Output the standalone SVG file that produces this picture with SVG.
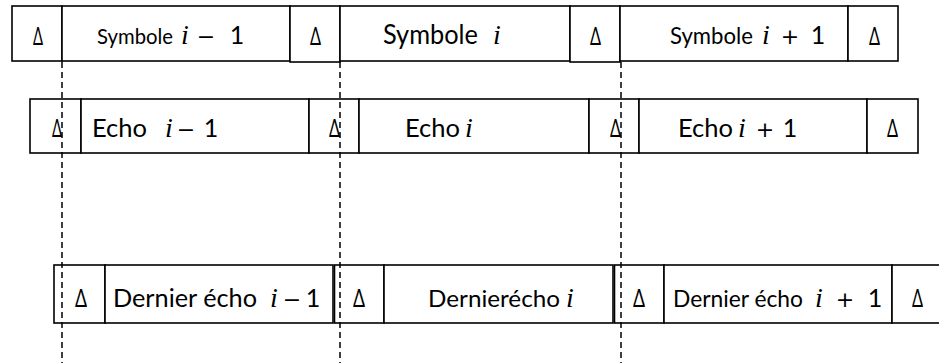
<svg xmlns="http://www.w3.org/2000/svg" width="939" height="363" viewBox="0 0 939 363">
  <style>
    .box { fill: #ffffff; stroke: #000000; stroke-width: 1.6; }
    .guide { fill: none; stroke: #000000; stroke-width: 1.5; stroke-dasharray: 6 4; }
    .w { font-family: Lato, "Open Sans", "DejaVu Sans", sans-serif; font-size: 25px; fill: #000000; }
    .n { font-family: Lato, "Open Sans", "DejaVu Sans", sans-serif; font-size: 25px; fill: #000000; text-anchor: middle; }
    .op { font-family: "DejaVu Sans", sans-serif; font-size: 22px; fill: #000000; text-anchor: middle; }
    .d { font-family: Lato, "Open Sans", "DejaVu Sans", sans-serif; font-size: 25px; fill: #000000; }
    .m { font-family: "Liberation Serif", "DejaVu Serif", serif; font-style: italic; font-size: 28px; fill: #000000; }
  </style>
  <rect width="939" height="363" fill="#ffffff"/>

  <!-- row 1: symbols -->
  <g id="row-symboles">
    <g id="s-g0"><rect class="box" x="12" y="6" width="50" height="55"/><text class="d" x="33" y="45" textLength="10" lengthAdjust="spacingAndGlyphs">Δ</text></g>
    <g id="s-prev"><rect class="box" x="62" y="6" width="228" height="55"/>
      <text class="w" x="97" y="44" style="font-size:22px" textLength="76" lengthAdjust="spacingAndGlyphs">Symbole</text>
      <text class="m" x="181" y="44">i</text><text class="op" x="206" y="44">−</text><text class="n" x="237" y="44">1</text></g>
    <g id="s-g1"><rect class="box" x="290" y="6" width="50" height="56"/><text class="d" x="310" y="45" textLength="11" lengthAdjust="spacingAndGlyphs">Δ</text></g>
    <g id="s-cur"><rect class="box" x="340" y="6" width="230" height="55"/>
      <text class="w" x="383" y="44" style="font-size:26px" textLength="95" lengthAdjust="spacingAndGlyphs">Symbole</text>
      <text class="m" x="493" y="44">i</text></g>
    <g id="s-g2"><rect class="box" x="570" y="6" width="50" height="56"/><text class="d" x="590" y="45" textLength="11" lengthAdjust="spacingAndGlyphs">Δ</text></g>
    <g id="s-next"><rect class="box" x="620" y="6" width="228" height="55"/>
      <text class="w" x="670" y="44" style="font-size:23px" textLength="83" lengthAdjust="spacingAndGlyphs">Symbole</text>
      <text class="m" x="762" y="44">i</text><text class="op" x="790" y="44">+</text><text class="n" x="818" y="44">1</text></g>
    <g id="s-g3"><rect class="box" x="848" y="6" width="50" height="55"/><text class="d" x="869" y="45" textLength="11" lengthAdjust="spacingAndGlyphs">Δ</text></g>
  </g>

  <!-- row 2: echoes -->
  <g id="row-echo">
    <g id="e-g0"><rect class="box" x="30" y="99" width="51" height="54"/><text class="d" x="52" y="137" textLength="10" lengthAdjust="spacingAndGlyphs">Δ</text></g>
    <g id="e-prev"><rect class="box" x="81" y="99" width="228" height="54"/>
      <text class="w" x="92" y="137" textLength="55" lengthAdjust="spacingAndGlyphs">Echo</text>
      <text class="m" x="165" y="137">i</text><text class="op" x="186" y="137">−</text><text class="n" x="211" y="137">1</text></g>
    <g id="e-g1"><rect class="box" x="309" y="99" width="50" height="54"/><text class="d" x="329" y="137" textLength="11" lengthAdjust="spacingAndGlyphs">Δ</text></g>
    <g id="e-cur"><rect class="box" x="359" y="99" width="230" height="54"/>
      <text class="w" x="405" y="137" textLength="55" lengthAdjust="spacingAndGlyphs">Echo</text>
      <text class="m" x="465" y="137">i</text></g>
    <g id="e-g2"><rect class="box" x="589" y="99" width="50" height="54"/><text class="d" x="610" y="137" textLength="11" lengthAdjust="spacingAndGlyphs">Δ</text></g>
    <g id="e-next"><rect class="box" x="639" y="99" width="228" height="54"/>
      <text class="w" x="678" y="137" textLength="55" lengthAdjust="spacingAndGlyphs">Echo</text>
      <text class="m" x="738" y="137">i</text><text class="op" x="765" y="137">+</text><text class="n" x="790" y="137">1</text></g>
    <g id="e-g3"><rect class="box" x="867" y="99" width="51" height="54"/><text class="d" x="887" y="137" textLength="11" lengthAdjust="spacingAndGlyphs">Δ</text></g>
  </g>

  <!-- row 3: last echoes -->
  <g id="row-dernier">
    <g id="d-g0"><rect class="box" x="54" y="265" width="51" height="58"/><text class="d" x="75" y="307" textLength="12" lengthAdjust="spacingAndGlyphs">Δ</text></g>
    <g id="d-prev"><rect class="box" x="105" y="265" width="228" height="58"/>
      <text class="w" x="113" y="307" textLength="144" lengthAdjust="spacingAndGlyphs">Dernier écho</text>
      <text class="m" x="270" y="307">i</text><text class="op" x="292" y="307">−</text><text class="n" x="313" y="307">1</text></g>
    <g id="d-g1"><rect class="box" x="334.5" y="265" width="49.5" height="58"/><text class="d" x="353" y="307" textLength="12" lengthAdjust="spacingAndGlyphs">Δ</text></g>
    <g id="d-cur"><rect class="box" x="384" y="265" width="229" height="58"/>
      <text class="w" x="428" y="307" style="font-size:24px" textLength="132" lengthAdjust="spacingAndGlyphs">Dernierécho</text>
      <text class="m" x="566" y="307">i</text></g>
    <g id="d-g2"><rect class="box" x="614.5" y="265" width="49.5" height="58"/><text class="d" x="633" y="307" textLength="12" lengthAdjust="spacingAndGlyphs">Δ</text></g>
    <g id="d-next"><rect class="box" x="664" y="265" width="228" height="58"/>
      <text class="w" x="673" y="307" style="font-size:24px" textLength="130" lengthAdjust="spacingAndGlyphs">Dernier écho</text>
      <text class="m" x="815" y="307">i</text><text class="op" x="845" y="307">+</text><text class="n" x="875" y="307">1</text></g>
    <g id="d-g3"><rect class="box" x="892" y="265" width="60" height="58"/><text class="d" x="912" y="307" textLength="11" lengthAdjust="spacingAndGlyphs">Δ</text></g>
  </g>

  <!-- dashed alignment guides -->
  <g id="connectors">
    <line class="guide" x1="62" y1="62" x2="62" y2="363"/>
    <line class="guide" x1="340" y1="62" x2="340" y2="363"/>
    <line class="guide" x1="621" y1="62" x2="621" y2="363"/>
  </g>
</svg>
